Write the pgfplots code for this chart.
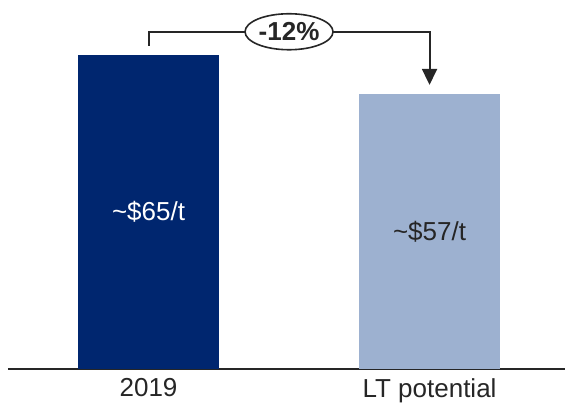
\documentclass[border=0pt]{standalone}
\usepackage{pgfplots}
\pgfplotsset{compat=1.18}
\usepackage{fontspec}
\setmainfont{Liberation Sans}
\usetikzlibrary{arrows.meta,shapes.geometric}
\definecolor{navy}{HTML}{00266F}
\definecolor{lightblue}{HTML}{9DB1D0}
\definecolor{txt}{HTML}{262626}
\begin{document}
\begin{tikzpicture}
\useasboundingbox (0,0) rectangle (565pt,410pt);
\begin{axis}[
  at={(8pt,41pt)}, anchor=south west,
  scale only axis, width=557pt, height=359pt,
  xmin=-0.5, xmax=1.482, ymin=0, ymax=74.3,
  axis x line*=bottom, axis y line=none,
  x axis line style={draw=txt, line width=1.6pt},
  xtick={0,1}, xticklabels={2019, LT potential},
  major tick length=0pt,
  xticklabel style={font=\fontsize{26}{30}\selectfont, text=txt, yshift=-6pt},
  ybar, bar width=141pt, bar shift=0pt,
  clip=false,
]
\addplot[fill=navy, draw=none] coordinates {(0,65)};
\addplot[fill=lightblue, draw=none] coordinates {(1,57)};
\node[white, font=\fontsize{26}{30}\selectfont] at (axis cs:0,32.5) {\textasciitilde\$65/t};
\node[txt, font=\fontsize{26}{30}\selectfont] at (axis cs:1,28.5) {\textasciitilde\$57/t};
\draw[txt, line width=2pt, -{Triangle[width=15pt,length=16pt]}]
  (axis cs:0,66.9) -- (axis cs:0,69.8) -- (axis cs:1,69.8) -- (axis cs:1,58.8);
\node[draw=txt, ellipse, fill=white, line width=1.6pt, minimum width=88pt, minimum height=36pt, inner sep=0pt, text=txt, font=\bfseries\fontsize{26}{30}\selectfont] at (axis cs:0.5,69.8) {-12\%};
\end{axis}
\end{tikzpicture}
\end{document}
